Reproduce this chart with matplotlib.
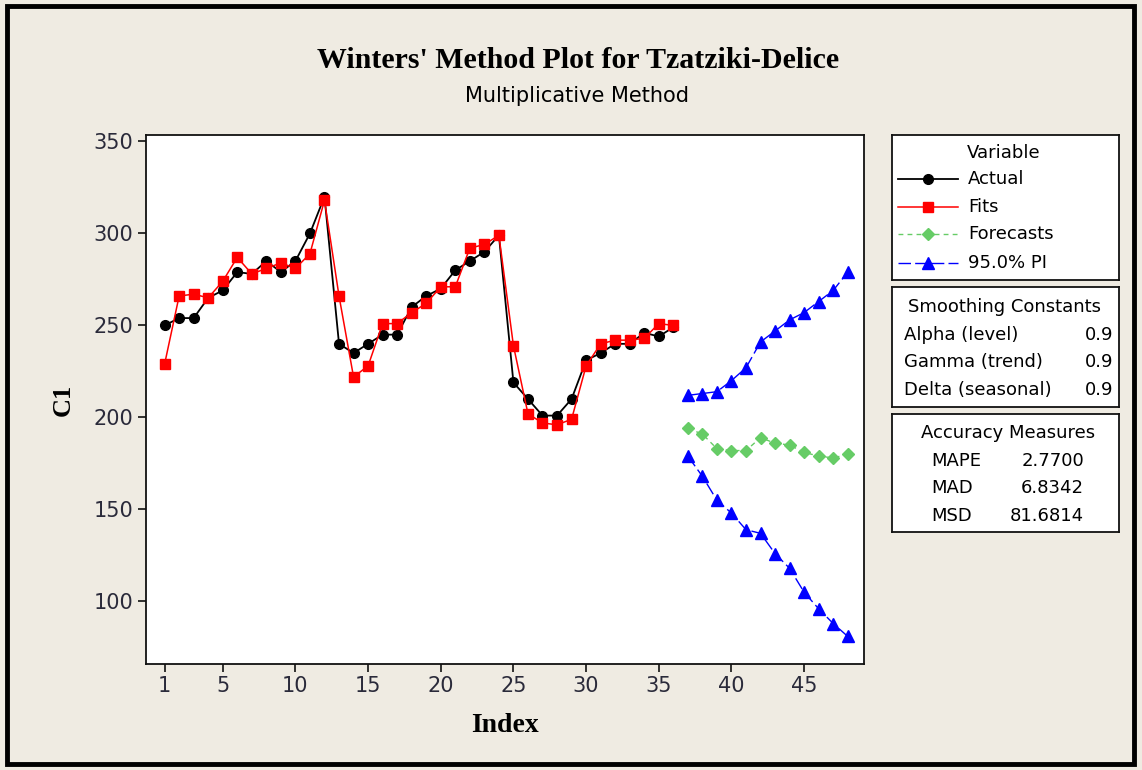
import numpy as np
import matplotlib
matplotlib.use("Agg")
import matplotlib.pyplot as plt
from matplotlib.patches import Rectangle
from matplotlib.lines import Line2D

W, H = 1142, 770  # output size in pixels

# data
index_fit = list(range(1, 37))
actual = [250, 254, 254, 265, 269, 279, 278, 285, 279, 285, 300, 320,
          240, 235, 240, 245, 245, 260, 266, 270, 280, 285, 290, 299,
          219, 210, 201, 201, 210, 231, 235, 240, 240, 246, 244, 249]
fits = [229, 266, 267, 265, 274, 287, 278, 281, 284, 281, 289, 318,
        266, 222, 228, 251, 251, 257, 262, 271, 271, 292, 294, 299,
        239, 202, 197, 196, 199, 228, 240, 242, 242, 243, 251, 250]

index_fc = list(range(37, 49))
forecasts = [194, 191, 183, 182, 182, 189, 186, 185, 181, 179, 178, 180]
pi_upper = [212, 213, 214, 220, 227, 241, 247, 253, 257, 263, 269, 279]
pi_lower = [179, 168, 155, 148, 139, 137, 126, 118, 105, 96, 88, 81]

xticks = [1, 5, 10, 15, 20, 25, 30, 35, 40, 45]
yticks = [100, 150, 200, 250, 300, 350]

smoothing = [("Alpha (level)", "0.9"), ("Gamma (trend)", "0.9"),
             ("Delta (seasonal)", "0.9")]
accuracy = [("MAPE", "2.7700"), ("MAD", "6.8342"), ("MSD", "81.6814")]

bg = "#efebe2"
sans = "DejaVu Sans"
serif = "Liberation Serif"

styles = {
    "Actual": dict(color="black", lw=1.3, ls="-", marker="o", ms=7),
    "Fits": dict(color="#ff0000", lw=1.1, ls="-", marker="s", ms=7),
    "Forecasts": dict(color="#66cc66", lw=1.0, ls=(0, (3.5, 3)), marker="D", ms=6.5),
    "95.0% PI": dict(color="#0000ff", lw=1.0, ls=(0, (9, 3)), marker="^", ms=8),
}


def px_axes(fig, x0, y0, x1, y1):
    # axes placed by pixel box, with pixel coordinates inside (y downwards)
    a = fig.add_axes([x0 / W, 1 - y1 / H, (x1 - x0) / W, (y1 - y0) / H])
    a.set_xlim(x0, x1)
    a.set_ylim(y1, y0)
    a.set_xticks([])
    a.set_yticks([])
    a.set_facecolor("white")
    for s in a.spines.values():
        s.set_linewidth(1.3)
        s.set_color("#111111")
    return a


fig = plt.figure(figsize=(W / 100, H / 100), dpi=100, facecolor=bg)

# outer frame
fig.patches.append(Rectangle((7 / W, 6 / H), (1134 - 7) / W, (764 - 6) / H,
                             transform=fig.transFigure, fill=False,
                             edgecolor="black", linewidth=3.5))

ax = fig.add_axes([146 / W, 1 - 664 / H, (864 - 146) / W, (664 - 135) / H])
ax.set_facecolor("white")
ax.plot(index_fit, actual, mec="black", mfc="black", **styles["Actual"])
ax.plot(index_fit, fits, mec="#ff0000", mfc="#ff0000", **styles["Fits"])
ax.plot(index_fc, forecasts, mec="#66cc66", mfc="#66cc66", **styles["Forecasts"])
ax.plot(index_fc, pi_upper, mec="#0000ff", mfc="#0000ff", **styles["95.0% PI"])
ax.plot(index_fc, pi_lower, mec="#0000ff", mfc="#0000ff", **styles["95.0% PI"])

ax.set_xlim(-0.28, 49.12)
ax.set_ylim(66, 353.5)
ax.set_xticks(xticks)
ax.set_yticks(yticks)
ax.tick_params(direction="out", length=6, width=1.2, labelsize=15,
               colors="#111111", pad=3)
for lab in ax.get_xticklabels() + ax.get_yticklabels():
    lab.set_family(sans)
    lab.set_color("#2a2a3a")
for s in ax.spines.values():
    s.set_linewidth(1.3)
    s.set_color("#111111")

ax.set_xlabel("Index", family=serif, fontweight="bold", fontsize=20, labelpad=12)
ax.set_ylabel("C1", family=serif, fontweight="bold", fontsize=19, labelpad=14)

fig.text(578 / W, 1 - 61 / H, "Winters' Method Plot for Tzatziki-Delice",
         family=serif, fontweight="bold", fontsize=21.5, ha="center", va="center")
fig.text(577 / W, 1 - 96 / H, "Multiplicative Method", family=sans,
         fontsize=15, ha="center", va="center")

# legend panel
fs = 13
lg = px_axes(fig, 892, 135, 1119, 280)
lg.text(1004, 153, "Variable", family=sans, fontsize=fs, ha="center", va="center")
for yy, name in zip([179, 207, 234, 263], ["Actual", "Fits", "Forecasts", "95.0% PI"]):
    st = styles[name]
    lg.add_line(Line2D([898, 928, 958], [yy, yy, yy], color=st["color"], lw=st["lw"],
                       ls=st["ls"], marker=st["marker"], ms=st["ms"],
                       markevery=[1], mfc=st["color"], mec=st["color"]))
    lg.text(968, yy, name, family=sans, fontsize=fs, ha="left", va="center")

# smoothing constants panel
sm = px_axes(fig, 892, 287, 1119, 407)
sm.text(1005, 307, "Smoothing Constants", family=sans, fontsize=fs,
        ha="center", va="center")
for yy, (k, v) in zip([335, 362, 390], smoothing):
    sm.text(904, yy, k, family=sans, fontsize=fs, ha="left", va="center")
    sm.text(1113, yy, v, family=sans, fontsize=fs, ha="right", va="center")

# accuracy measures panel
ac = px_axes(fig, 892, 414, 1119, 532)
ac.text(1008, 433, "Accuracy Measures", family=sans, fontsize=fs,
        ha="center", va="center")
for yy, (k, v) in zip([461, 488, 516], accuracy):
    ac.text(931, yy, k, family=sans, fontsize=fs, ha="left", va="center")
    ac.text(1084, yy, v, family=sans, fontsize=fs, ha="right", va="center")

fig.savefig("out.png", dpi=100, facecolor=bg)
